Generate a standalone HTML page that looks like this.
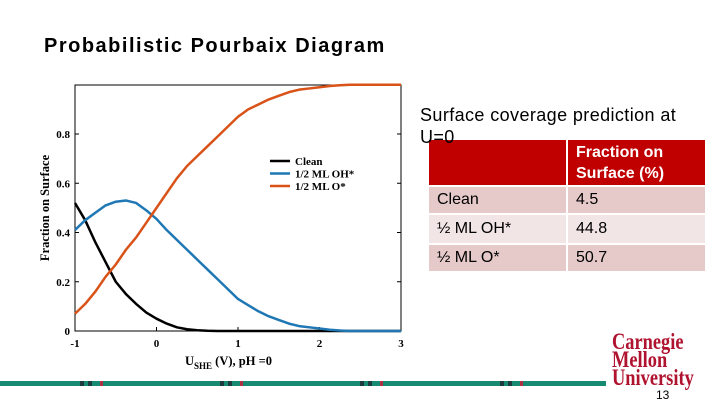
<!DOCTYPE html>
<html><head><meta charset="utf-8"><style>
body{margin:0;width:720px;height:405px;background:#fff;overflow:hidden;position:relative;font-family:"Liberation Sans",sans-serif}
.t{position:absolute}
table{position:absolute;left:427px;top:138px;border-collapse:collapse;font-size:16px}
td{padding:0 8px;border:2px solid #fff}
</style></head><body>
<div class="t" style="left:44px;top:35px;font-size:20px;font-weight:bold;letter-spacing:1.5px">Probabilistic Pourbaix Diagram</div>
<svg class="t" style="left:0;top:0" width="720" height="405">
<g id="plot" font-family="Liberation Serif,serif" font-weight="bold" font-size="11"></g>
</svg>
<table>
<tr style="background:#c00000;color:#fff;font-weight:bold;height:47px"><td style="width:121px"></td><td style="width:121px;line-height:21px">Fraction on Surface (%)</td></tr>
<tr style="background:#e6caca;height:28px"><td>Clean</td><td>4.5</td></tr>
<tr style="background:#f2e5e5;height:30px"><td>½ ML OH*</td><td>44.8</td></tr>
<tr style="background:#e6caca;height:28px"><td>½ ML O*</td><td>50.7</td></tr>
</table>
<div class="t" style="left:420px;top:104px;font-size:18px;line-height:22px;width:285px;letter-spacing:0.4px;z-index:2">Surface coverage prediction at U=0</div>
<div class="t" style="left:0;top:381px;width:606px;height:5px;background:repeating-linear-gradient(90deg,#178a72 0 80px,#1d3b3c 80px 84px,#178a72 84px 88px,#1d3b3c 88px 92px,#178a72 92px 100px,#b03040 100px 103px,#178a72 103px 140px)"></div>
<div class="t" style="left:612px;top:333px;font-family:'Liberation Serif',serif;font-weight:bold;color:#b0132f;font-size:23px;line-height:18px;transform:scaleX(0.8);transform-origin:left">Carnegie<br>Mellon<br>University</div>
<div class="t" style="left:656px;top:388px;font-size:12px">13</div>
<script>
const xs=[-1,-0.875,-0.75,-0.625,-0.5,-0.375,-0.25,-0.125,0,0.125,0.25,0.375,0.5,0.625,0.75,0.875,1,1.125,1.25,1.375,1.5,1.625,1.75,1.875,2,2.125,2.25,2.375,2.5,2.625,2.75,2.875,3];
const clean=[0.52,0.45,0.36,0.28,0.2,0.15,0.11,0.075,0.05,0.03,0.015,0.007,0.003,0.001,0,0,0,0,0,0,0,0,0,0,0,0,0,0,0,0,0,0,0];
const oh=[0.41,0.45,0.48,0.51,0.525,0.53,0.52,0.49,0.455,0.41,0.37,0.33,0.29,0.25,0.21,0.17,0.13,0.105,0.08,0.06,0.045,0.03,0.02,0.015,0.01,0.005,0.002,0,0,0,0,0,0];
const ox=[0.07,0.11,0.16,0.22,0.27,0.33,0.38,0.44,0.5,0.56,0.62,0.67,0.71,0.75,0.79,0.83,0.87,0.9,0.92,0.94,0.955,0.97,0.98,0.985,0.99,0.995,0.998,1,1,1,1,1,1];
const xTicks=[-1,0,1,2,3];
const yTicks=[0,0.2,0.4,0.6,0.8];
const X=v=>75+(v+1)*81.5, Y=v=>331-v*246.25;
const g=document.getElementById('plot');const NS='http://www.w3.org/2000/svg';
function mk(t,a,txt){const e=document.createElementNS(NS,t);for(const k in a)e.setAttribute(k,a[k]);if(txt!=null)e.textContent=txt;g.appendChild(e);return e;}
let e=mk('rect',{x:75,y:85,width:326,height:246,fill:'none',stroke:'#000','stroke-width':1});


xTicks.forEach(v=>{let t=mk('text',{x:X(v),y:347,'text-anchor':'middle'},v);


mk('line',{x1:X(v),x2:X(v),y1:331,y2:327,stroke:'#000'});});
yTicks.forEach(v=>{let t=mk('text',{x:70,y:Y(v)+4,'text-anchor':'end'},v);


mk('line',{x1:75,x2:79,y1:Y(v),y2:Y(v),stroke:'#000'});mk('line',{x1:401,x2:397,y1:Y(v),y2:Y(v),stroke:'#000'});});
const series=[[clean,'#000','clean-line','Clean'],[oh,'#1f77b4','oh-line','1/2 ML OH*'],[ox,'#d95319','o-line','1/2 ML O*']];
series.forEach((s,i)=>{let p=mk('polyline',{points:xs.map((x,j)=>X(x)+','+Y(s[0][j])).join(' '),fill:'none',stroke:s[1],'stroke-width':2.5,'stroke-linejoin':'round'});


mk('line',{x1:270,x2:290,y1:161+i*12.5,y2:161+i*12.5,stroke:s[1],'stroke-width':2.5});
let l=mk('text',{x:295,y:165+i*12.5,'font-size':11},s[3]);

});
let yl=mk('text',{x:49,y:208,'text-anchor':'middle','font-size':12.5,transform:'rotate(-90 49 208)'},'Fraction on Surface');


let xl=mk('text',{x:185,y:365,'font-size':12.5});


xl.innerHTML='U<tspan font-size="9" dy="4">SHE</tspan><tspan dy="-4"> (V), pH =0</tspan>';
</script>
</body></html>
